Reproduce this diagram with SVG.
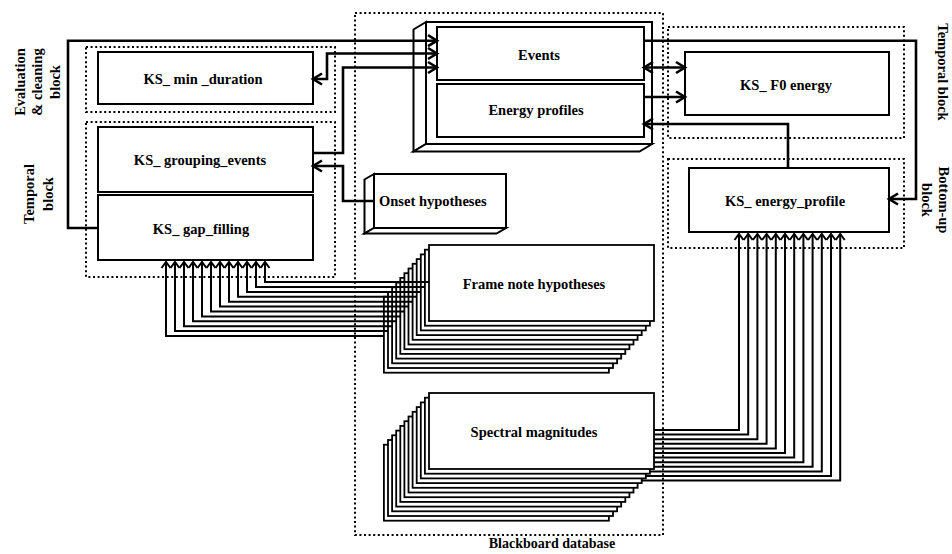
<svg xmlns="http://www.w3.org/2000/svg" width="952" height="554" viewBox="0 0 952 554">
  <style>
    text { font-family: "Liberation Serif", "Times New Roman", serif; font-weight: bold; font-size: 14.5px; fill: #000; }
    .c { text-anchor: middle; }
    .box { fill: #fff; stroke: #000; stroke-width: 2; }
    .face { fill: #fff; stroke: #000; stroke-width: 2; stroke-linejoin: miter; }
    .dot { fill: none; stroke: #000; stroke-width: 2; stroke-dasharray: 2 2.6; }
    .layer { fill: #fff; stroke: #000; stroke-width: 1.8; }
    .con { fill: none; stroke: #000; stroke-width: 2.6; stroke-linejoin: miter; }
    .fan { fill: none; stroke: #000; stroke-width: 2; stroke-linejoin: miter; }
  </style>
  <defs>
    <marker id="ah" markerUnits="userSpaceOnUse" markerWidth="14" markerHeight="14" refX="11" refY="7" orient="auto-start-reverse" overflow="visible">
      <path d="M2,1.5 L11,7 L2,12.5" fill="none" stroke="#000" stroke-width="2.6"/>
    </marker>
    <marker id="sa" markerUnits="userSpaceOnUse" markerWidth="10" markerHeight="10" refX="7" refY="5" orient="auto" overflow="visible">
      <path d="M1,0.5 L7,5 L1,9.5" fill="none" stroke="#000" stroke-width="2"/>
    </marker>
  </defs>

  <rect width="952" height="554" fill="#fff"/>

  <!-- block outlines -->
  <g id="blocks">
    <rect class="dot" x="86" y="47" width="249" height="65"/>
    <rect class="dot" x="86" y="122" width="249" height="155"/>
    <rect class="dot" x="355" y="13" width="308" height="522"/>
    <rect class="dot" x="668" y="27" width="236" height="111"/>
    <rect class="dot" x="668" y="159" width="236" height="89"/>
  </g>

  <!-- block labels -->
  <g id="labels">
    <text class="c" transform="translate(25,82) rotate(-90)">Evaluation</text>
    <text class="c" transform="translate(42,82) rotate(-90)">&amp; cleaning</text>
    <text class="c" transform="translate(60,82) rotate(-90)">block</text>
    <text class="c" transform="translate(34,194) rotate(-90)">Temporal</text>
    <text class="c" transform="translate(53,194) rotate(-90)">block</text>
    <text class="c" transform="translate(938,72) rotate(90)">Temporal block</text>
    <text class="c" transform="translate(939,200) rotate(90)">Bottom-up</text>
    <text class="c" transform="translate(922,200) rotate(90)">block</text>
    <text class="c" x="552" y="548" style="font-size:14px">Blackboard database</text>
  </g>

  <!-- knowledge sources -->
  <g id="ks-min-duration">
    <rect class="box" x="98" y="52" width="215" height="52"/>
    <text class="c" x="203" y="84">KS_ min _duration</text>
  </g>
  <g id="ks-grouping-events">
    <rect class="box" x="98" y="127" width="215" height="65"/>
    <text class="c" x="200" y="165">KS_ grouping_events</text>
  </g>
  <g id="ks-gap-filling">
    <rect class="box" x="98" y="195" width="215" height="65"/>
    <text class="c" x="201" y="234">KS_ gap_filling</text>
  </g>
  <g id="ks-f0-energy">
    <rect class="box" x="685" y="52" width="204" height="63"/>
    <text class="c" x="786" y="90">KS_ F0 energy</text>
  </g>
  <g id="ks-energy-profile">
    <rect class="box" x="689" y="168" width="200" height="64"/>
    <text class="c" x="785" y="206">KS_ energy_profile</text>
  </g>

  <!-- events / energy profiles container -->
  <g id="events-store">
    <rect class="face" x="426" y="22" width="226" height="122"/>
    <polygon class="face" points="426,22 413.5,29.5 413.5,151.5 426,144"/>
    <polygon class="face" points="413.5,151.5 639.5,151.5 652,144 426,144"/>
    <g id="events">
      <rect class="box" x="437" y="27" width="207" height="53"/>
      <text class="c" x="539" y="60">Events</text>
    </g>
    <g id="energy-profiles">
      <rect class="box" x="437" y="84" width="207" height="53"/>
      <text class="c" x="536" y="115">Energy profiles</text>
    </g>
  </g>

  <g id="onset-hypotheses">
    <rect class="face" x="374" y="174" width="132" height="54"/>
    <polygon class="face" points="374,174 364.5,179.5 364.5,233.5 374,228"/>
    <polygon class="face" points="364.5,233.5 496.5,233.5 506,228 374,228"/>
    <text x="379" y="206">Onset hypotheses</text>
  </g>

  <!-- stacked frame note hypotheses (back to front) -->
  <g id="frame-note-hypotheses">
    <rect class="layer" x="383.9" y="296.7" width="225" height="76"/>
    <rect class="layer" x="388" y="292" width="225" height="76"/>
    <rect class="layer" x="392.1" y="287.3" width="225" height="76"/>
    <rect class="layer" x="396.2" y="282.6" width="225" height="76"/>
    <rect class="layer" x="400.3" y="277.9" width="225" height="76"/>
    <rect class="layer" x="404.4" y="273.2" width="225" height="76"/>
    <rect class="layer" x="408.5" y="268.5" width="225" height="76"/>
    <rect class="layer" x="412.6" y="263.8" width="225" height="76"/>
    <rect class="layer" x="416.7" y="259.1" width="225" height="76"/>
    <rect class="layer" x="420.8" y="254.4" width="225" height="76"/>
    <rect class="layer" x="424.9" y="249.7" width="225" height="76"/>
    <rect class="layer" x="429" y="245" width="225" height="76"/>
    <text class="c" x="534" y="289">Frame note hypotheses</text>
  </g>

  <!-- connectors -->
  <g id="connectors">
    <!-- gap filling loop back to events -->
    <path class="con" d="M98,228 H68 V40.7 H437" marker-end="url(#ah)"/>
    <!-- events <-> min duration -->
    <path class="con" d="M313,79 H327 V53.5 H437" marker-start="url(#ah)" marker-end="url(#ah)"/>
    <!-- grouping events -> events -->
    <path class="con" d="M313,153 H343 V67.5 H437" marker-end="url(#ah)"/>
    <!-- onset hypotheses -> grouping events -->
    <path class="con" d="M374,201 H343 V166 H313" marker-end="url(#ah)"/>
    <!-- events -> energy profile KS -->
    <path class="con" d="M644,40.7 H916 V199 H889" marker-end="url(#ah)"/>
    <!-- events <-> F0 energy -->
    <path class="con" d="M644,67.5 H685" marker-start="url(#ah)" marker-end="url(#ah)"/>
    <!-- energy profiles -> F0 energy -->
    <path class="con" d="M644,97 H685" marker-end="url(#ah)"/>
    <!-- energy profile KS -> energy profiles -->
    <path class="con" d="M788,168 V124 H644" marker-end="url(#ah)"/>

    <!-- frame note hypotheses -> gap filling -->
    <path class="fan" d="M383.9,336 H166 V262" marker-end="url(#sa)"/>
    <path class="fan" d="M388,331.1 H175 V262" marker-end="url(#sa)"/>
    <path class="fan" d="M392.1,326.2 H184 V262" marker-end="url(#sa)"/>
    <path class="fan" d="M396.2,321.3 H193 V262" marker-end="url(#sa)"/>
    <path class="fan" d="M400.3,316.4 H202 V262" marker-end="url(#sa)"/>
    <path class="fan" d="M404.4,311.5 H211 V262" marker-end="url(#sa)"/>
    <path class="fan" d="M408.5,306.6 H220 V262" marker-end="url(#sa)"/>
    <path class="fan" d="M412.6,301.7 H229 V262" marker-end="url(#sa)"/>
    <path class="fan" d="M416.7,296.8 H238 V262" marker-end="url(#sa)"/>
    <path class="fan" d="M420.8,291.9 H247 V262" marker-end="url(#sa)"/>
    <path class="fan" d="M424.9,287 H256 V262" marker-end="url(#sa)"/>
    <path class="fan" d="M429,282.1 H265 V262" marker-end="url(#sa)"/>

    <!-- spectral magnitudes -> energy profile KS -->
    <path class="fan" d="M630,430 H739 V234" marker-end="url(#sa)"/>
    <path class="fan" d="M630,434.6 H748.2 V234" marker-end="url(#sa)"/>
    <path class="fan" d="M630,439.2 H757.4 V234" marker-end="url(#sa)"/>
    <path class="fan" d="M630,443.8 H766.6 V234" marker-end="url(#sa)"/>
    <path class="fan" d="M630,448.4 H775.8 V234" marker-end="url(#sa)"/>
    <path class="fan" d="M630,453 H785 V234" marker-end="url(#sa)"/>
    <path class="fan" d="M630,457.6 H794.2 V234" marker-end="url(#sa)"/>
    <path class="fan" d="M630,462.2 H803.4 V234" marker-end="url(#sa)"/>
    <path class="fan" d="M630,466.8 H812.6 V234" marker-end="url(#sa)"/>
    <path class="fan" d="M630,471.4 H821.8 V234" marker-end="url(#sa)"/>
    <path class="fan" d="M630,476 H831 V234" marker-end="url(#sa)"/>
    <path class="fan" d="M630,480.6 H840.2 V234" marker-end="url(#sa)"/>
  </g>

  <!-- stacked spectral magnitudes (back to front) -->
  <g id="spectral-magnitudes">
    <rect class="layer" x="383.9" y="444.7" width="225" height="76"/>
    <rect class="layer" x="388" y="440" width="225" height="76"/>
    <rect class="layer" x="392.1" y="435.3" width="225" height="76"/>
    <rect class="layer" x="396.2" y="430.6" width="225" height="76"/>
    <rect class="layer" x="400.3" y="425.9" width="225" height="76"/>
    <rect class="layer" x="404.4" y="421.2" width="225" height="76"/>
    <rect class="layer" x="408.5" y="416.5" width="225" height="76"/>
    <rect class="layer" x="412.6" y="411.8" width="225" height="76"/>
    <rect class="layer" x="416.7" y="407.1" width="225" height="76"/>
    <rect class="layer" x="420.8" y="402.4" width="225" height="76"/>
    <rect class="layer" x="424.9" y="397.7" width="225" height="76"/>
    <rect class="layer" x="429" y="393" width="225" height="76"/>
    <text class="c" x="534" y="437">Spectral magnitudes</text>
  </g>
</svg>
